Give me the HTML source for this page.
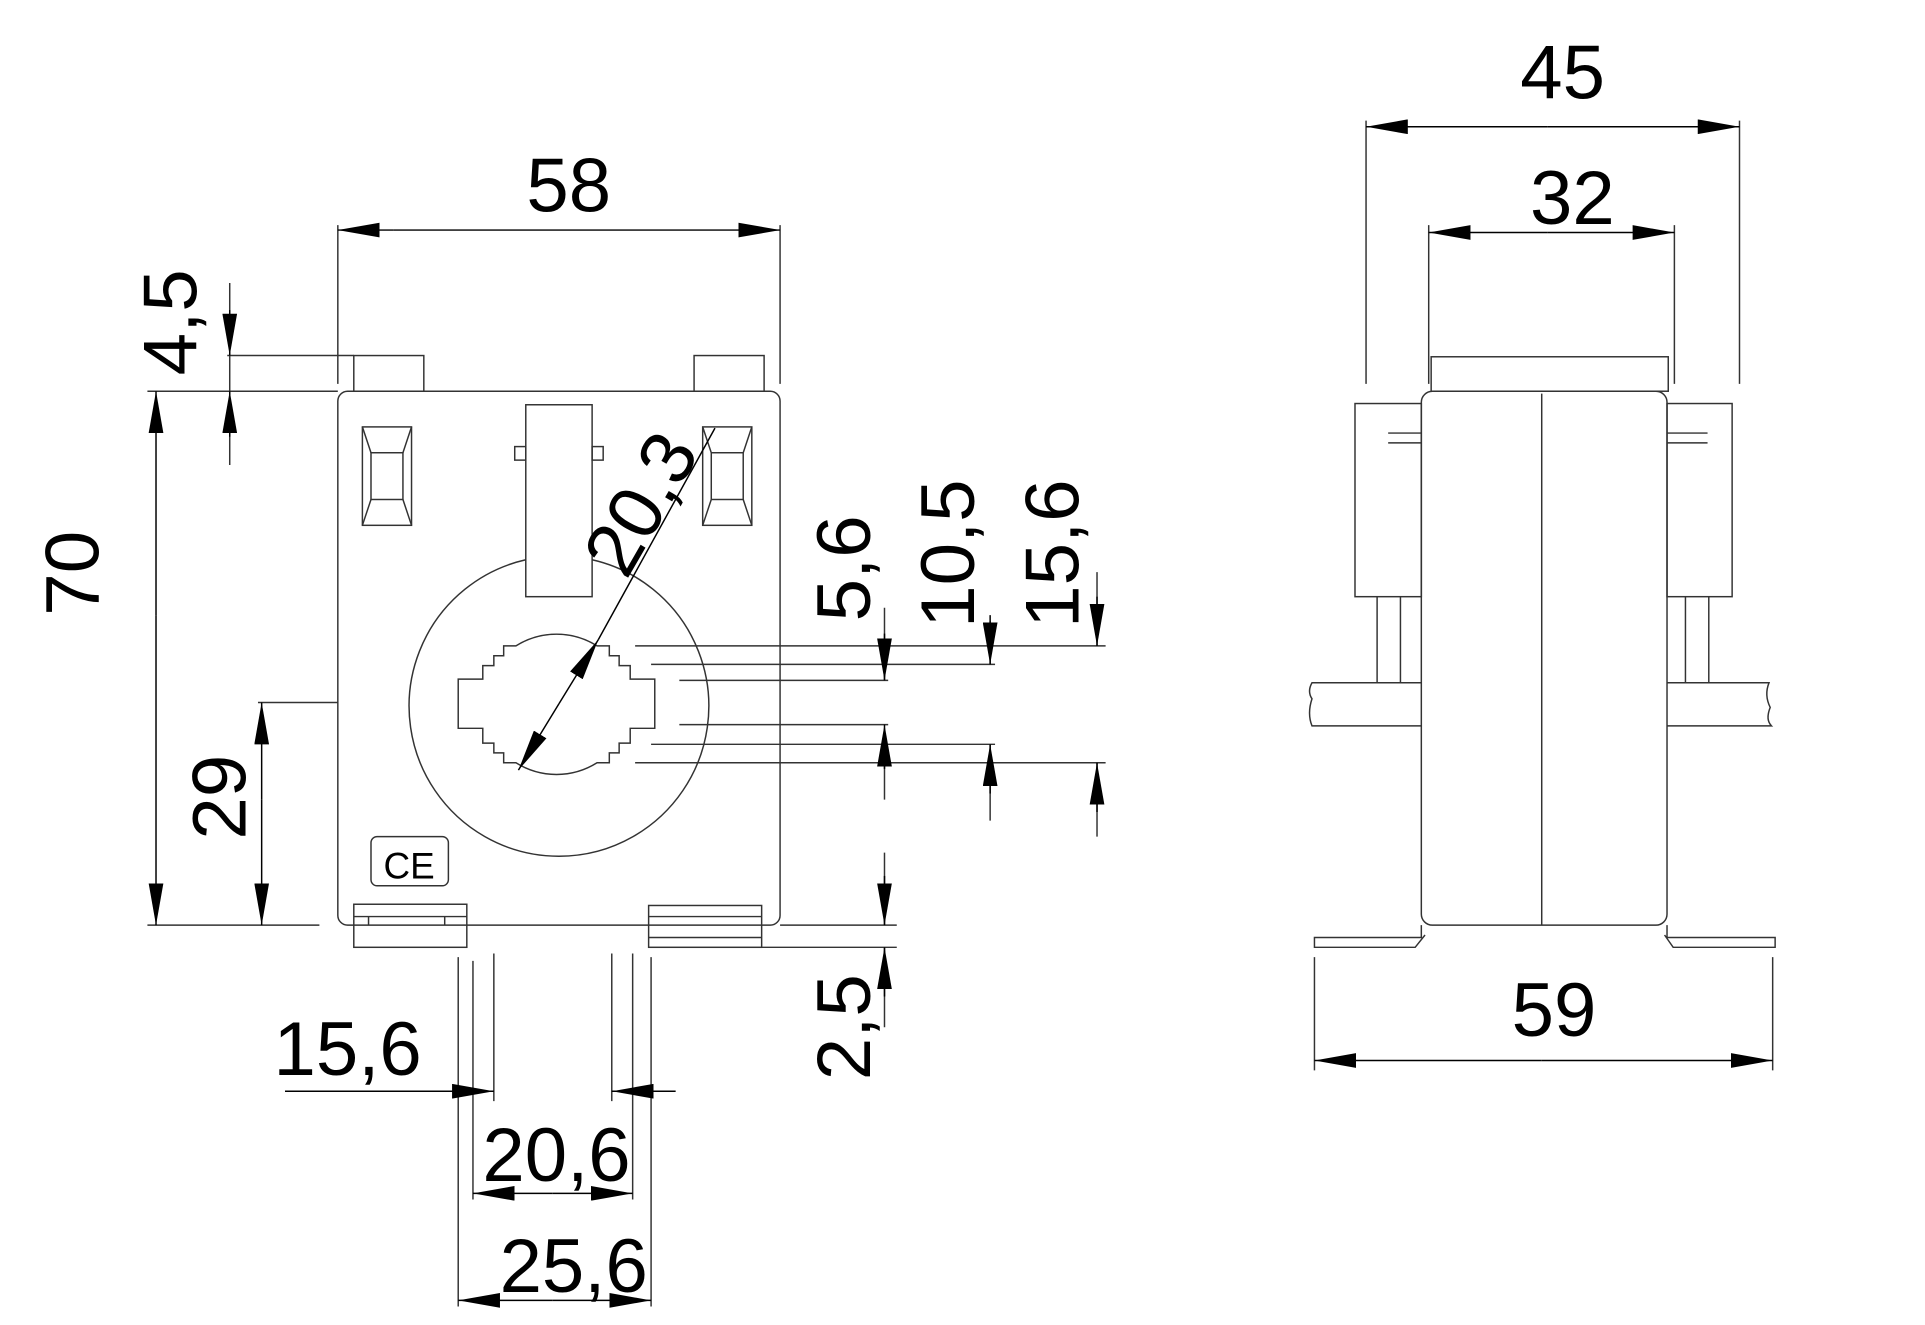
<!DOCTYPE html>
<html><head><meta charset="utf-8"><style>html,body{margin:0;padding:0;background:#fff}svg{display:block}</style></head>
<body>
<svg width="1925" height="1325" viewBox="0 0 1567 1077" preserveAspectRatio="none" xmlns="http://www.w3.org/2000/svg">
<defs>
<marker id="a" viewBox="0 0 34 12" refX="34" refY="6" markerWidth="34" markerHeight="12" markerUnits="userSpaceOnUse" orient="auto"><path d="M0,0 L34,6 L0,12 Z" fill="#000"/></marker>
</defs>
<g fill="none" stroke="#333" stroke-width="1.2">
<rect x="275" y="318" width="360" height="434" rx="8"/>
<rect x="288" y="289" width="57" height="29"/>
<rect x="565" y="289" width="57" height="29"/>
<rect x="295" y="347" width="40" height="80"/><rect x="302" y="368" width="26" height="38"/>
<path d="M295,347 L302,368 M335,347 L328,368 M295,427 L302,406 M335,427 L328,406"/>
<rect x="572" y="347" width="40" height="80"/><rect x="579" y="368" width="26" height="38"/>
<path d="M572,347 L579,368 M612,347 L605,368 M572,427 L579,406 M612,427 L605,406"/>
<rect x="428" y="329" width="54" height="156"/>
<rect x="419" y="363" width="9" height="11"/><rect x="482" y="363" width="9" height="11"/>
<path d="M428,455 A122,122 0 1 0 482,455"/>
<path d="M420,525 A62,62 0 0 1 486,525 L496,525 L496,533 L504,533 L504,541 L513,541 L513,552 L533,552 L533,592 L513,592 L513,604 L504,604 L504,612 L496,612 L496,620 L486,620 A62,62 0 0 1 420,620 L410,620 L410,612 L402,612 L402,604 L393,604 L393,592 L373,592 L373,552 L393,552 L393,541 L402,541 L402,533 L410,533 L410,525 Z"/>
<rect x="302" y="680" width="63" height="40" rx="5"/>
<rect x="288" y="735" width="92" height="35"/><path d="M288,745 L380,745 M300,745 L300,752 M362,745 L362,752"/>
<rect x="528" y="736" width="92" height="34"/><path d="M528,745 L620,745 M528,762 L620,762"/>
<path d="M275,183 L275,312 M635,183 L635,312"/>
<path d="M185,289 L288,289 M120,318 L275,318 M187,230 L187,378"/>
<path d="M120,752 L260,752 M210,571 L275,571"/>
<path d="M517,525 L900,525 M530,540 L810,540 M553,553 L723,553 M553,589 L723,589 M530,605 L810,605 M517,620 L900,620"/>
<path d="M720,620 L720,650 M806,605 L806,667 M893,620 L893,680 M893,465 L893,525 M806,505 L806,540 M720,494 L720,553"/>
<path d="M635,752 L730,752 M620,770 L730,770 M720,693 L720,752 M720,770 L720,835"/>
<path d="M373,778 L373,1062 M385,781 L385,975 M402,775 L402,895 M498,775 L498,895 M515,775 L515,975 M530,778 L530,1062"/>
<path d="M1112,98 L1112,312 M1416,98 L1416,312 M1163,183 L1163,312 M1363,183 L1363,312"/>
<rect x="1165" y="290" width="193" height="28"/>
<rect x="1157" y="318" width="200" height="434" rx="9"/>
<path d="M1255,320 L1255,752"/>
<rect x="1103" y="328" width="54" height="157"/><rect x="1357" y="328" width="53" height="157"/>
<path d="M1130,352 L1157,352 M1130,360 L1157,360 M1357,352 L1390,352 M1357,360 L1390,360"/>
<path d="M1121,485 L1121,555 M1140,485 L1140,555 M1372,485 L1372,555 M1391,485 L1391,555"/>
<path d="M1157,555 L1068,555 Q1064,562 1068,568 Q1064,580 1068,590 L1157,590"/>
<path d="M1357,555 L1440,555 Q1436,565 1441,575 Q1437,585 1442,590 L1357,590"/>
<path d="M1157,752 L1157,762 L1070,762 L1070,770 L1152,770 L1160,760 M1357,752 L1357,762 L1445,762 L1445,770 L1362,770 L1355,760"/>
<path d="M1070,778 L1070,870 M1443,778 L1443,870"/>
</g>
<g stroke="#000" stroke-width="1.2" fill="none">
<line x1="320" y1="187" x2="275" y2="187" marker-end="url(#a)"/><line x1="320" y1="187" x2="635" y2="187" marker-end="url(#a)"/>
<line x1="187" y1="252" x2="187" y2="289" marker-end="url(#a)"/><line x1="187" y1="355" x2="187" y2="318" marker-end="url(#a)"/>
<line x1="127" y1="500" x2="127" y2="318" marker-end="url(#a)"/><line x1="127" y1="500" x2="127" y2="752" marker-end="url(#a)"/>
<line x1="213" y1="650" x2="213" y2="571" marker-end="url(#a)"/><line x1="213" y1="650" x2="213" y2="752" marker-end="url(#a)"/>
<line x1="720" y1="515" x2="720" y2="553" marker-end="url(#a)"/><line x1="720" y1="625" x2="720" y2="589" marker-end="url(#a)"/>
<line x1="806" y1="500" x2="806" y2="540" marker-end="url(#a)"/><line x1="806" y1="645" x2="806" y2="605" marker-end="url(#a)"/>
<line x1="893" y1="485" x2="893" y2="525" marker-end="url(#a)"/><line x1="893" y1="660" x2="893" y2="620" marker-end="url(#a)"/>
<line x1="720" y1="712" x2="720" y2="752" marker-end="url(#a)"/><line x1="720" y1="810" x2="720" y2="770" marker-end="url(#a)"/>
<line x1="232" y1="887" x2="402" y2="887" marker-end="url(#a)"/><line x1="550" y1="887" x2="498" y2="887" marker-end="url(#a)"/>
<line x1="450" y1="970" x2="385" y2="970" marker-end="url(#a)"/><line x1="450" y1="970" x2="515" y2="970" marker-end="url(#a)"/>
<line x1="450" y1="1057" x2="373" y2="1057" marker-end="url(#a)"/><line x1="450" y1="1057" x2="530" y2="1057" marker-end="url(#a)"/>
<line x1="455" y1="572" x2="487" y2="520" marker-end="url(#a)"/><line x1="455" y1="572" x2="422" y2="626" marker-end="url(#a)"/>
<line x1="487" y1="520" x2="582" y2="348"/>
<line x1="1260" y1="103" x2="1112" y2="103" marker-end="url(#a)"/><line x1="1260" y1="103" x2="1416" y2="103" marker-end="url(#a)"/>
<line x1="1260" y1="189" x2="1163" y2="189" marker-end="url(#a)"/><line x1="1260" y1="189" x2="1363" y2="189" marker-end="url(#a)"/>
<line x1="1255" y1="862" x2="1070" y2="862" marker-end="url(#a)"/><line x1="1255" y1="862" x2="1443" y2="862" marker-end="url(#a)"/>
</g>
<g font-family="Liberation Sans, sans-serif" font-size="62" fill="#000" text-anchor="middle">
<text x="463" y="172">58</text>
<text x="1272" y="80">45</text>
<text x="1280" y="182">32</text>
<text x="1265" y="842">59</text>
<text x="283" y="874">15,6</text>
<text x="453" y="960">20,6</text>
<text x="467" y="1050">25,6</text>
<text transform="translate(160,262) rotate(-90)">4,5</text>
<text transform="translate(80,466) rotate(-90)">70</text>
<text transform="translate(200,648) rotate(-90)">29</text>
<text transform="translate(708,462) rotate(-90)">5,6</text>
<text transform="translate(793,450) rotate(-90)">10,5</text>
<text transform="translate(878,450) rotate(-90)">15,6</text>
<text transform="translate(708,835) rotate(-90)">2,5</text>
<text transform="translate(540,420) rotate(-60)">20,3</text>
<text x="333" y="714" font-size="30">CE</text>
</g>
</svg>
</body></html>
